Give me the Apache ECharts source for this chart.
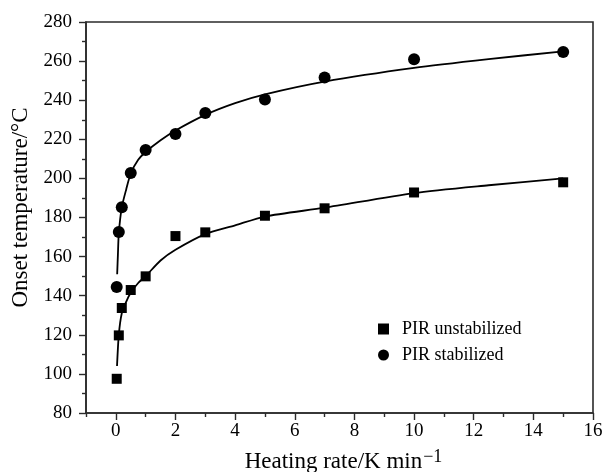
<!DOCTYPE html>
<html>
<head>
<meta charset="utf-8">
<script src="https://cdn.jsdelivr.net/npm/echarts@6/dist/echarts.min.js"></script>
<style>
html,body{margin:0;padding:0;background:#fff;}
#chart{width:602px;height:472px;}
</style>
</head>
<body>
<div id="chart"></div>
<script>
// Measured data
var unstabX = [0.03, 0.1, 0.2, 0.5, 1, 2, 3, 5, 7, 10, 15];
var unstabY = [97.5, 119.7, 133.7, 142.9, 149.9, 170.5, 172.4, 180.9, 184.7, 192.8, 198.0];
var stabX = [0.03, 0.1, 0.2, 0.5, 1, 2, 3, 5, 7, 10, 15];
var stabY = [144.5, 172.6, 185.3, 202.8, 214.5, 222.7, 233.4, 240.3, 251.6, 260.9, 264.6];

// Fitted curves
var fitUnstX = [0.04, 0.1, 0.2, 0.35, 0.5, 0.75, 1, 1.5, 2, 3, 4, 5, 7, 10, 12.5, 15];
var fitUnstY = [104, 120, 131, 137, 141.5, 146.5, 150, 158, 163.5, 171.5, 176, 180.5, 185, 192.5, 196.5, 200];
var fitStabX = [0.045, 0.07, 0.1, 0.2, 0.35, 0.5, 0.75, 1, 1.5, 2, 3, 4, 5, 7, 10, 12.5, 15];
var fitStabY = [151, 161, 172, 185.2, 194.5, 202.5, 209.5, 213.5, 219.5, 224.5, 232.5, 238.5, 243, 249.5, 256.5, 261, 265];

// Axis ticks
var xMajor = [0, 2, 4, 6, 8, 10, 12, 14, 16];
var xMinor = [-1, 1, 3, 5, 7, 9, 11, 13, 15];

var seriesNames = ['PIR unstabilized', 'PIR stabilized'];

function pairs(xs, ys) { return xs.map(function (x, i) { return [x, ys[i]]; }); }

var FONT = '"Liberation Serif", "Times New Roman", serif';
var AX = '#2b2b2b';

var chart = echarts.init(document.getElementById('chart'), null, {renderer: 'canvas'});
chart.setOption({
  backgroundColor: '#fff',
  animation: false,
  grid: {left: 86, right: 9, top: 22, bottom: 59, containLabel: false, outerBoundsMode: 'none',
    show: true, borderColor: AX, borderWidth: 1.6, backgroundColor: 'transparent'},
  legend: {
    orient: 'vertical', left: 373, top: 315, itemGap: 8, itemWidth: 11, itemHeight: 11,
    data: [{name: seriesNames[0], icon: 'rect'}, {name: seriesNames[1], icon: 'circle'}],
    textStyle: {fontFamily: FONT, fontSize: 18, color: '#000', padding: [0, 0, 0, 8]}
  },
  xAxis: [{
    type: 'value', min: -1, max: 16, position: 'bottom',
    name: 'Heating rate/K min{sup|\u22121}', nameLocation: 'middle', nameGap: 35,
    nameTextStyle: {fontFamily: FONT, fontSize: 23, color: '#000', padding: [0, 0, 0, 8],
      rich: {sup: {fontFamily: FONT, fontSize: 18, color: '#000', verticalAlign: 'top', padding: [0, 0, 10, 1]}}},
    axisLine: {show: true, onZero: false, lineStyle: {color: AX, width: 1.6}},
    axisTick: {show: true, inside: false, length: 7, customValues: xMajor, lineStyle: {color: AX, width: 1.4}},
    axisLabel: {show: true, margin: 9, customValues: xMajor, fontFamily: FONT, fontSize: 19, color: '#000'},
    splitLine: {show: false}
  }, {
    type: 'value', min: -1, max: 16, position: 'bottom', gridIndex: 0,
    axisLine: {show: false, onZero: false},
    axisTick: {show: true, inside: false, length: 4, customValues: xMinor, lineStyle: {color: AX, width: 1.4}},
    axisLabel: {show: false},
    splitLine: {show: false}
  }],
  yAxis: {
    type: 'value', min: 80, max: 280, interval: 20,
    name: 'Onset temperature/\u00b0C', nameLocation: 'middle', nameGap: 52,
    nameTextStyle: {fontFamily: FONT, fontSize: 23, color: '#000', padding: [0, 0, 0, 20]},
    axisLine: {show: true, onZero: false, lineStyle: {color: AX, width: 1.6}},
    axisTick: {show: true, inside: false, length: 7, lineStyle: {color: AX, width: 1.4}},
    minorTick: {show: true, splitNumber: 2, length: 4, lineStyle: {color: AX, width: 1.4}},
    axisLabel: {margin: 14, fontFamily: FONT, fontSize: 19, color: '#000'},
    splitLine: {show: false}, minorSplitLine: {show: false}
  },
  series: [{
    name: 'fit unstabilized', type: 'line', data: pairs(fitUnstX, fitUnstY),
    smooth: 0.25, showSymbol: false, symbol: 'none',
    lineStyle: {color: '#000', width: 1.8}, z: 2, silent: true
  }, {
    name: 'fit stabilized', type: 'line', data: pairs(fitStabX, fitStabY),
    smooth: 0.25, showSymbol: false, symbol: 'none',
    lineStyle: {color: '#000', width: 1.8}, z: 2, silent: true
  }, {
    name: seriesNames[0], type: 'scatter', data: pairs(unstabX, unstabY),
    symbol: 'rect', symbolSize: 10, itemStyle: {color: '#000', opacity: 1}, z: 3
  }, {
    name: seriesNames[1], type: 'scatter', data: pairs(stabX, stabY),
    symbol: 'circle', symbolSize: 12, itemStyle: {color: '#000', opacity: 1}, z: 3
  }]
});
</script>
</body>
</html>
